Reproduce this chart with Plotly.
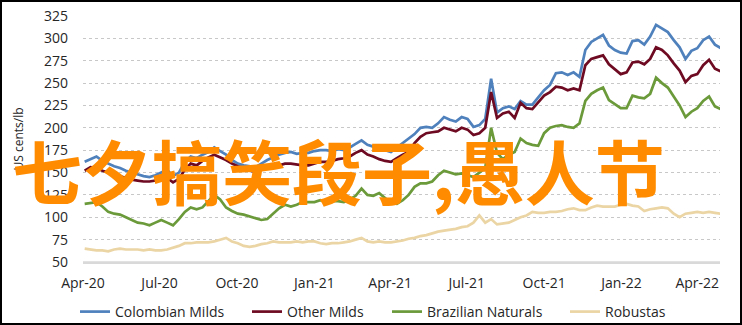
import pandas as pd
import plotly.graph_objects as go

# Weekly readings (cents/lb), starting first week of April 2020
start_date = "2020-04-03"

colombian_milds = [
    162, 165, 168, 163, 160, 157, 155, 152, 150, 148,
    146, 145, 147, 150, 153, 146, 150, 162, 168, 166,
    170, 173, 178, 174, 170, 164, 160, 158, 157, 156,
    160, 164, 167, 170, 172, 173, 171, 172, 172, 174,
    175, 175, 174, 176, 175, 178, 182, 186, 181, 179,
    176, 175, 173, 178, 183, 189, 193, 200, 201, 200,
    205, 212, 209, 207, 212, 210, 201, 203, 210, 255,
    217, 222, 224, 221, 230, 226, 226, 234, 242, 248,
    261, 262, 259, 262, 257, 287, 296, 300, 304, 292,
    287, 284, 283, 297, 298, 293, 302, 315, 311, 307,
    298, 290, 277, 286, 289, 298, 302, 293, 289,
]

other_milds = [
    152, 156, 155, 152, 150, 148, 146, 144, 142, 141,
    140, 140, 141, 142, 144, 139, 143, 153, 160, 158,
    163, 167, 170, 167, 164, 160, 157, 155, 152, 151,
    153, 155, 156, 158, 160, 160, 159, 158, 158, 160,
    162, 162, 163, 165, 166, 168, 172, 175, 170, 168,
    165, 163, 162, 166, 170, 173, 183, 190, 194, 195,
    196, 200, 198, 196, 200, 198, 192, 194, 200, 240,
    211, 216, 218, 211, 228, 222, 221, 228, 236, 240,
    246, 245, 242, 244, 242, 270, 277, 279, 281, 271,
    266, 260, 262, 273, 274, 271, 277, 290, 287, 281,
    272, 264, 251, 258, 260, 270, 276, 266, 263,
]

brazilian_naturals = [
    115, 116, 117, 112, 106, 104, 103, 100, 97, 94,
    93, 91, 94, 97, 94, 91, 98, 106, 111, 109,
    111, 118, 125, 120, 111, 107, 104, 103, 101, 99,
    97, 98, 104, 110, 114, 112, 114, 117, 117, 117,
    119, 117, 118, 118, 117, 120, 124, 132, 125, 124,
    127, 122, 116, 115, 119, 125, 134, 138, 138, 140,
    147, 152, 150, 148, 149, 147, 145, 150, 155, 200,
    172, 165, 170, 173, 188, 183, 181, 180, 194, 200,
    202, 203, 201, 200, 205, 230, 238, 242, 245, 231,
    226, 222, 222, 236, 234, 233, 238, 256, 250, 245,
    235, 225, 212, 218, 222, 230, 235, 224, 221,
]

robustas = [
    65, 64, 63, 63, 62, 64, 65, 64, 64, 64,
    63, 64, 63, 63, 64, 66, 68, 71, 71, 72,
    72, 72, 73, 75, 77, 73, 71, 68, 67, 68,
    70, 71, 73, 72, 72, 72, 73, 72, 73, 73,
    71, 70, 71, 71, 72, 73, 75, 77, 73, 72,
    73, 72, 72, 73, 74, 76, 77, 79, 80, 82,
    84, 85, 86, 87, 89, 90, 94, 102, 94, 98,
    92, 93, 94, 97, 100, 102, 106, 105, 105, 106,
    106, 107, 109, 110, 108, 108, 111, 113, 112, 112,
    112, 114, 115, 113, 112, 107, 109, 110, 111, 110,
    104, 100, 104, 105, 106, 105, 106, 105, 104,
]

tick_dates = ["2020-04-01", "2020-07-01", "2020-10-01", "2021-01-01", "2021-04-01",
              "2021-07-01", "2021-10-01", "2022-01-01", "2022-04-01"]
tick_labels = ["Apr-20", "Jul-20", "Oct-20", "Jan-21", "Apr-21",
               "Jul-21", "Oct-21", "Jan-22", "Apr-22"]
y_ticks = [50, 75, 100, 125, 150, 175, 200, 225, 250, 275, 300, 325]

series = [
    ("Colombian Milds", colombian_milds, "#4F81BD"),
    ("Other Milds", other_milds, "#6E0B22"),
    ("Brazilian Naturals", brazilian_naturals, "#6B9A3B"),
    ("Robustas", robustas, "#EBD5A5"),
]

FONT = "Open Sans"
TXT = "#262626"
W, H = 742, 325
ml, mr, mt, mb = 83, 22, 16, 63
pw, ph = W - ml - mr, H - mt - mb

def px_x(p):
    return (p - ml) / pw

def px_y(p):
    return (H - mb - p) / ph

# legend text start positions (px) for each entry
legend_text_x = [117, 289, 429, 607]
legend_names = ["legend", "legend2", "legend3", "legend4"]

fig = go.Figure()
for (name, vals, color), lg in zip(series, legend_names):
    dates = pd.date_range(start_date, periods=len(vals), freq="7D")
    fig.add_trace(go.Scatter(x=dates, y=vals, mode="lines", name=name,
                             legend=lg, line=dict(color=color, width=2.7)))

legend_layouts = {}
for lg, tx in zip(legend_names, legend_text_x):
    legend_layouts[lg] = dict(
        xref="container", yref="container",
        x=(tx - 42) / W, xanchor="left",
        y=1 - 312 / H, yanchor="middle",
        orientation="h", bgcolor="rgba(0,0,0,0)", borderwidth=0,
        font=dict(family=FONT, size=14, color=TXT),
        itemwidth=30,
    )

fig.update_layout(
    width=W, height=H,
    margin=dict(l=ml, r=mr, t=mt, b=mb, pad=0, autoexpand=False),
    paper_bgcolor="white", plot_bgcolor="white",
    font=dict(family=FONT, size=14, color=TXT),
    showlegend=True,
    xaxis=dict(
        type="date",
        range=["2020-04-01", "2022-04-28"],
        tickvals=tick_dates, ticktext=tick_labels,
        showgrid=False, zeroline=False,
        showline=True, linecolor="#D9D9D9", linewidth=1.5,
        ticks="", ticklabelstandoff=7,
        tickfont=dict(family=FONT, size=14, color=TXT),
    ),
    yaxis=dict(
        range=[50, 325], tickvals=y_ticks,
        showgrid=True, gridcolor="#C8C8C8", griddash="dot", gridwidth=1,
        zeroline=False, showline=False, ticks="", ticklabelstandoff=14,
        tickfont=dict(family=FONT, size=14, color=TXT),
        title=dict(text="US cents/lb", standoff=17,
                   font=dict(family=FONT, size=12, color=TXT)),
    ),
    shapes=[
        dict(type="line", xref="paper", yref="y", x0=0, x1=1, y0=50, y1=50,
             line=dict(color="#D9D9D9", width=1.5), layer="below"),
        dict(type="rect", xref="paper", yref="paper",
             x0=px_x(1), x1=px_x(741), y0=px_y(1), y1=px_y(324),
             line=dict(color="black", width=2), fillcolor="rgba(0,0,0,0)"),
    ],
    annotations=[
        dict(text="七夕搞笑段子,愚人节", xref="paper", yref="paper",
             x=px_x(338), y=px_y(169), xanchor="center", yanchor="middle",
             showarrow=False,
             font=dict(family="Noto Sans CJK SC", size=70, color="#FF8C00",
                       weight=600)),
    ],
    **legend_layouts,
)

fig.write_html("out.html")
